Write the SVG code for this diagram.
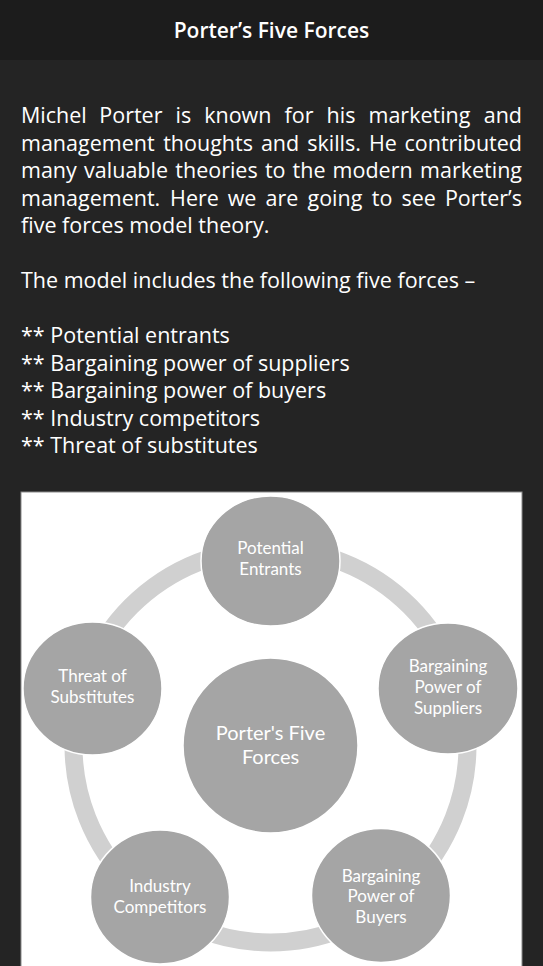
<svg xmlns="http://www.w3.org/2000/svg" width="543" height="966" viewBox="0 0 543 966">
<style>
.bg{fill:#242424}
.hdr{fill:#1c1c1c}
.title{font-family:"Open Sans","Noto Sans",sans-serif;font-size:21px;font-weight:600;fill:#ffffff}
.body{font-family:"Open Sans","Noto Sans",sans-serif;font-size:21.5px;fill:#ffffff}
.end{text-anchor:end}
.node{fill:#a5a5a5;stroke:#ffffff;stroke-width:1.5}
.lbl{font-family:Lato,"Open Sans",sans-serif;font-size:17px;fill:#ffffff;text-anchor:middle}
.lblc{font-family:Lato,"Open Sans",sans-serif;font-size:20px;fill:#ffffff;text-anchor:middle}
.ring{fill:none;stroke:#d0d0d0;stroke-width:18}
</style>
<rect class="bg" x="0" y="0" width="543" height="966"/>
<rect class="hdr" x="0" y="0" width="543" height="60"/>
<text class="title" x="271.5" y="38" text-anchor="middle">Porter’s Five Forces</text>

<g id="paragraph">
<text class="body" y="123"><tspan x="21">Michel</tspan><tspan x="99.3">Porter</tspan><tspan x="175.5">is</tspan><tspan x="204.2">known</tspan><tspan x="284.6">for</tspan><tspan x="326.6">his</tspan><tspan x="368.5">marketing</tspan></text>
<text class="body end" x="522" y="123">and</text>
<text class="body" y="150.5"><tspan x="21">management</tspan><tspan x="163.2">thoughts</tspan><tspan x="260.9">and</tspan><tspan x="307.2">skills.</tspan><tspan x="368.9">He</tspan></text>
<text class="body end" x="522" y="150.5">contributed</text>
<text class="body" y="178"><tspan x="21">many</tspan><tspan x="84.1">valuable</tspan><tspan x="175.3">theories</tspan><tspan x="264.9">to</tspan><tspan x="292.6">the</tspan><tspan x="332.6">modern</tspan></text>
<text class="body end" x="522" y="178">marketing</text>
<text class="body" y="205.5"><tspan x="21">management.</tspan><tspan x="170.1">Here</tspan><tspan x="227.7">we</tspan><tspan x="265.6">are</tspan><tspan x="307.5">going</tspan><tspan x="371.8">to</tspan><tspan x="401.5">see</tspan></text>
<text class="body end" x="522" y="205.5">Porter’s</text>
<text class="body" x="21" y="233">five forces model theory.</text>
<text class="body" x="21" y="288">The model includes the following five forces –</text>
<text class="body" x="21" y="343">** Potential entrants</text>
<text class="body" x="21" y="370.5">** Bargaining power of suppliers</text>
<text class="body" x="21" y="398">** Bargaining power of buyers</text>
<text class="body" x="21" y="425.5">** Industry competitors</text>
<text class="body" x="21" y="453">** Threat of substitutes</text>
</g>

<rect x="21" y="492" width="501" height="480" fill="#ffffff" stroke="#8a8a8a" stroke-width="1"/>

<g id="connectors">
<circle class="ring" cx="270.5" cy="745.5" r="197"/>
</g>

<g id="center">
<circle class="node" cx="270.5" cy="745.5" r="87.5"/>
<text class="lblc" x="270.5" y="740">Porter's Five</text>
<text class="lblc" x="270.5" y="764">Forces</text>
</g>
<g id="potential-entrants">
<ellipse class="node" cx="270.5" cy="561" rx="69.5" ry="65"/>
<text class="lbl" x="270.5" y="554">Potential</text>
<text class="lbl" x="270.5" y="575">Entrants</text>
</g>
<g id="suppliers">
<ellipse class="node" cx="448" cy="688.5" rx="70" ry="65.5"/>
<text class="lbl" x="448" y="672">Bargaining</text>
<text class="lbl" x="448" y="693">Power of</text>
<text class="lbl" x="448" y="714">Suppliers</text>
</g>
<g id="buyers">
<ellipse class="node" cx="381" cy="895.5" rx="69.5" ry="67"/>
<text class="lbl" x="381" y="882">Bargaining</text>
<text class="lbl" x="381" y="902">Power of</text>
<text class="lbl" x="381" y="923">Buyers</text>
</g>
<g id="competitors">
<ellipse class="node" cx="160" cy="897" rx="69.5" ry="67"/>
<text class="lbl" x="160" y="892">Industry</text>
<text class="lbl" x="160" y="913">Competitors</text>
</g>
<g id="substitutes">
<ellipse class="node" cx="92.5" cy="688.5" rx="69.5" ry="66.5"/>
<text class="lbl" x="92.5" y="682">Threat of</text>
<text class="lbl" x="92.5" y="703">Substitutes</text>
</g>
</svg>
